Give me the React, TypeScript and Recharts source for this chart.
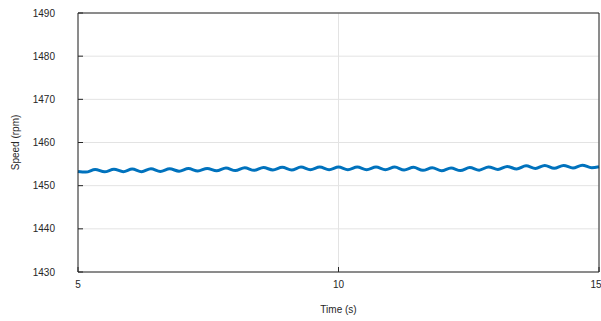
import { LineChart, Line, XAxis, YAxis, CartesianGrid, ReferenceLine } from 'recharts'

const timeS = [
  5.0, 5.15, 5.33, 5.51, 5.69, 5.87, 6.04, 6.22, 6.4, 6.58, 6.76, 6.94, 7.12, 7.3,
  7.48, 7.66, 7.84, 8.02, 8.2, 8.38, 8.56, 8.74, 8.92, 9.1, 9.28, 9.46, 9.64, 9.82,
  10.0, 10.18, 10.36, 10.54, 10.72, 10.9, 11.08, 11.26, 11.44, 11.62, 11.8, 11.98,
  12.16, 12.34, 12.52, 12.7, 12.88, 13.06, 13.24, 13.42, 13.6, 13.78, 13.96, 14.14,
  14.32, 14.5, 14.68, 14.86, 15.0,
]

const speedRpm = [
  1453.3, 1453.15, 1453.75, 1453.2, 1453.8, 1453.25, 1453.85, 1453.25, 1453.9, 1453.3,
  1453.9, 1453.35, 1453.95, 1453.4, 1454.0, 1453.45, 1454.1, 1453.5, 1454.15, 1453.55,
  1454.2, 1453.65, 1454.25, 1453.65, 1454.3, 1453.7, 1454.3, 1453.7, 1454.3, 1453.7,
  1454.3, 1453.7, 1454.3, 1453.7, 1454.3, 1453.65, 1454.25, 1453.55, 1454.15, 1453.45,
  1454.1, 1453.5, 1454.2, 1453.6, 1454.35, 1453.75, 1454.45, 1453.85, 1454.6, 1454.0,
  1454.7, 1454.05, 1454.7, 1454.1, 1454.75, 1454.15, 1454.4,
]

const xTicks = [5, 10, 15]
const yTicks = [1430, 1440, 1450, 1460, 1470, 1480, 1490]

const data = timeS.map((t, i) => ({ t, speed: speedRpm[i] }))

const axisColor = '#262626'
const font = { fill: axisColor, fontSize: 10, fontFamily: '"Liberation Sans", Arial, sans-serif' }

export default function App() {
  return (
    <div style={{ position: 'absolute', left: 0, top: 0, background: '#fff' }}>
      <LineChart width={601} height={321} data={data} margin={{ top: 13, right: 0, bottom: 0, left: 0 }}>
        <CartesianGrid stroke="#e3e3e3" />
        <XAxis
          dataKey="t"
          type="number"
          domain={[5, 15]}
          ticks={xTicks}
          height={49}
          stroke={axisColor}
          tickSize={-5}
          tickMargin={14}
          tick={font}
          label={{ value: 'Time (s)', position: 'insideBottom', offset: 8, style: font }}
        />
        <YAxis
          type="number"
          domain={[1430, 1490]}
          ticks={yTicks}
          width={78}
          stroke={axisColor}
          tickSize={-5}
          tickMargin={28}
          tick={font}
          label={{ value: 'Speed (rpm)', angle: -90, position: 'insideLeft', offset: 15, style: { ...font, textAnchor: 'middle' } }}
        />
        <YAxis
          yAxisId="right"
          orientation="right"
          type="number"
          domain={[1430, 1490]}
          ticks={yTicks}
          width={2}
          stroke={axisColor}
          tickSize={-5}
          tickFormatter={() => ''}
        />
        <ReferenceLine y={1490} stroke={axisColor} />
        <Line
          type="monotone"
          dataKey="speed"
          stroke="#0072BD"
          strokeWidth={3}
          dot={false}
          isAnimationActive={false}
        />
      </LineChart>
    </div>
  )
}
